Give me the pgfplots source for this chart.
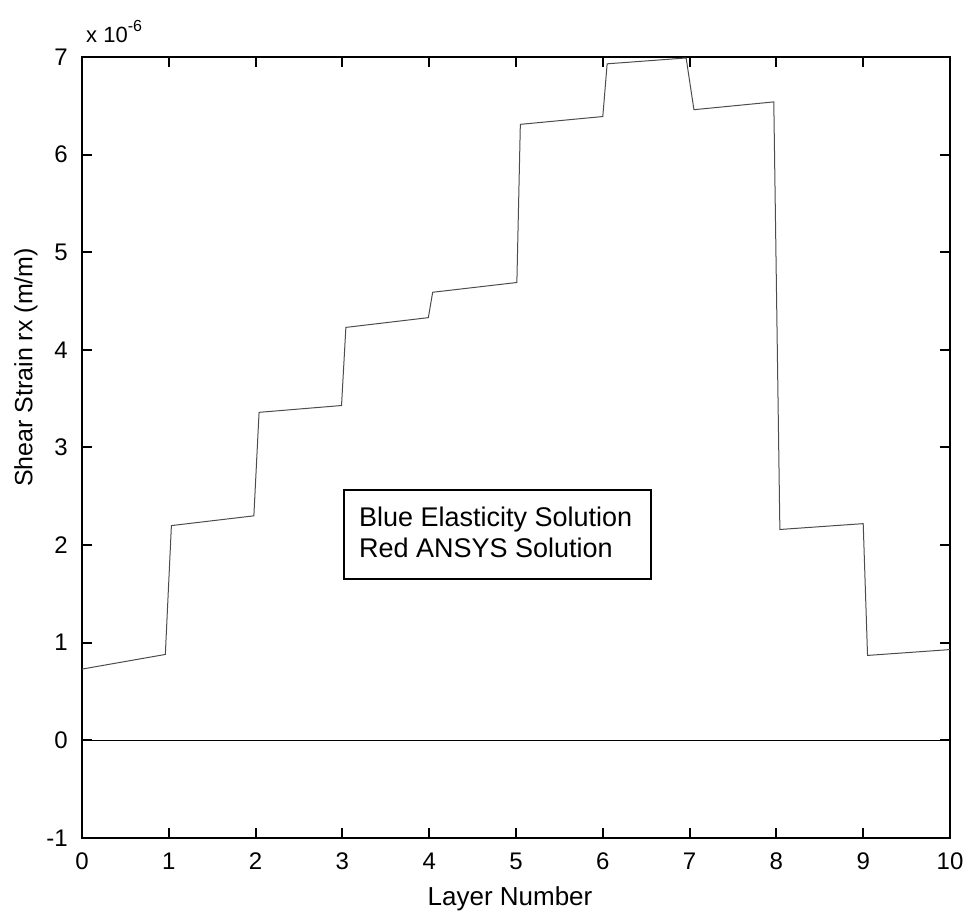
\documentclass[border=0pt]{standalone}
\usepackage{fontspec}
\setmainfont{Liberation Sans}
\usepackage{pgfplots}
\pgfplotsset{compat=1.18}
\begin{document}
\fontsize{24bp}{28bp}\selectfont
\begin{tikzpicture}
\begin{axis}[
  scale only axis, width=868bp, height=781bp,
  xmin=0, xmax=10, ymin=-1, ymax=7,
  xtick={0,1,2,3,4,5,6,7,8,9,10},
  xticklabels={0,1,2,3,4,5,6,7,8,9,10},
  ytick={-1,0,1,2,3,4,5,6,7},
  yticklabels={-1,0,1,2,3,4,5,6,7},
  tick align=inside, tick pos=both,
  major tick length=10bp,
  axis line style={line width=2bp},
  every tick/.style={black, line width=2bp},
  tick label style={font=\fontsize{24bp}{28bp}\selectfont},
  yticklabel style={xshift=-6bp},
  xticklabel style={yshift=-7bp},
]
\addplot[black!70, line width=1bp] coordinates {
 (0,0.73) (0.96,0.88) (1.03,2.20) (1.98,2.30) (2.04,3.36) (2.99,3.43)
 (3.04,4.23) (3.99,4.33) (4.04,4.59) (5.01,4.69) (5.05,6.31) (6.00,6.39)
 (6.05,6.93) (6.96,6.99) (7.05,6.46) (7.97,6.54) (8.04,2.16) (9.00,2.22)
 (9.05,0.87) (10,0.93)
};
\addplot[black, line width=1.3bp] coordinates {(0,0) (10,0)};
\draw[line width=1.8bp] (axis cs:3.02,1.652) rectangle (axis cs:6.555,2.563);
\node[anchor=base west, inner sep=0pt, font=\fontsize{27bp}{32bp}\selectfont] at (axis cs:3.19,2.195) {Blue Elasticity Solution};
\node[anchor=base west, inner sep=0pt, font=\fontsize{27bp}{32bp}\selectfont] at (axis cs:3.19,1.877) {Red ANSYS Solution};
\end{axis}
\path (current axis.north west) ++(4bp,14bp) node[anchor=base west, inner sep=0pt, font=\fontsize{22bp}{26bp}\selectfont]
  {x 10\raisebox{0.5em}{\fontsize{16bp}{20bp}\selectfont -6}};
\path (current axis.west) ++(-56bp,80bp) node[rotate=90, inner sep=0pt, font=\fontsize{25bp}{30bp}\selectfont] {Shear Strain rx (m/m)};
\path (current axis.south) ++(-6bp,-68bp) node[anchor=base, inner sep=0pt, font=\fontsize{26bp}{30bp}\selectfont] {Layer Number};
\path (current axis.south west) ++(-82bp,-79bp) coordinate (bl);
\path (current axis.north east) ++(15bp,57bp) coordinate (tr);
\pgfresetboundingbox
\path[use as bounding box] (bl) rectangle (tr);
\end{tikzpicture}
\end{document}
